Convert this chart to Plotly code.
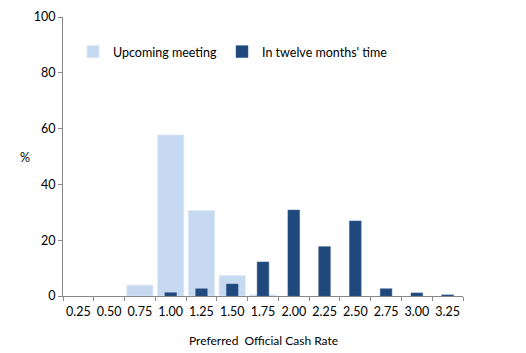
import plotly.graph_objects as go

categories = ["0.25", "0.50", "0.75", "1.00", "1.25", "1.50", "1.75",
              "2.00", "2.25", "2.50", "2.75", "3.00", "3.25"]
upcoming = [0, 0, 3.9, 57.7, 30.6, 7.3, 0.4, 0, 0, 0, 0, 0, 0]
twelve_months = [0, 0, 0, 1.2, 2.6, 4.3, 12.2, 30.8, 17.7, 26.9, 2.6, 1.1, 0.4]
y_ticks = [0, 20, 40, 60, 80, 100]

font_family = "Lato, Open Sans, sans-serif"


def hide_zero(vals):
    return [v if v else None for v in vals]


fig = go.Figure()
fig.add_trace(go.Bar(
    x=categories, y=hide_zero(upcoming), name="Upcoming meeting",
    marker=dict(color="#c6d9f1", line=dict(color="#dce8f6", width=1)),
    width=0.85,
))
fig.add_trace(go.Bar(
    x=categories, y=hide_zero(twelve_months), name="In twelve months' time",
    marker=dict(color="#1f497d", line=dict(color="#3a5f8f", width=0.5)),
    width=0.38,
))

plot_w = 526 - 63 - 63
plot_h = 353 - 17 - 57

fig.update_layout(
    width=526, height=353,
    margin=dict(l=63, r=63, t=17, b=57),
    barmode="overlay",
    plot_bgcolor="white", paper_bgcolor="white",
    font=dict(family=font_family, size=12, color="#000"),
    showlegend=True,
    legend=dict(orientation="h", x=0.025, y=(296 - 52) / plot_h,
                xanchor="left", yanchor="middle",
                font=dict(size=12.5), itemwidth=30, traceorder="normal",
                bgcolor="rgba(0,0,0,0)"),
    xaxis=dict(
        type="category", categoryorder="array", categoryarray=categories,
        showline=True, linecolor="#888", linewidth=1,
        ticks="outside", ticklen=4, tickcolor="#888", tickson="boundaries",
        showgrid=False, tickfont=dict(size=12.5), tickangle=0,
        ticklabelstandoff=4, automargin=False,
    ),
    yaxis=dict(
        range=[0, 100], tickvals=y_ticks,
        showline=True, linecolor="#888", linewidth=1,
        ticks="outside", ticklen=4, tickcolor="#888",
        showgrid=False, zeroline=False, tickfont=dict(size=12.5),
        automargin=False,
    ),
    annotations=[
        dict(text="%", x=(18 - 63) / plot_w, y=(296 - 157) / plot_h,
             xref="paper", yref="paper", showarrow=False, font=dict(size=12.5)),
        dict(text="Preferred  Official Cash Rate", x=(263 - 63) / plot_w,
             y=(296 - 340) / plot_h, xref="paper", yref="paper",
             showarrow=False, font=dict(size=12), yanchor="middle"),
    ],
)

fig.write_html("out.html")
